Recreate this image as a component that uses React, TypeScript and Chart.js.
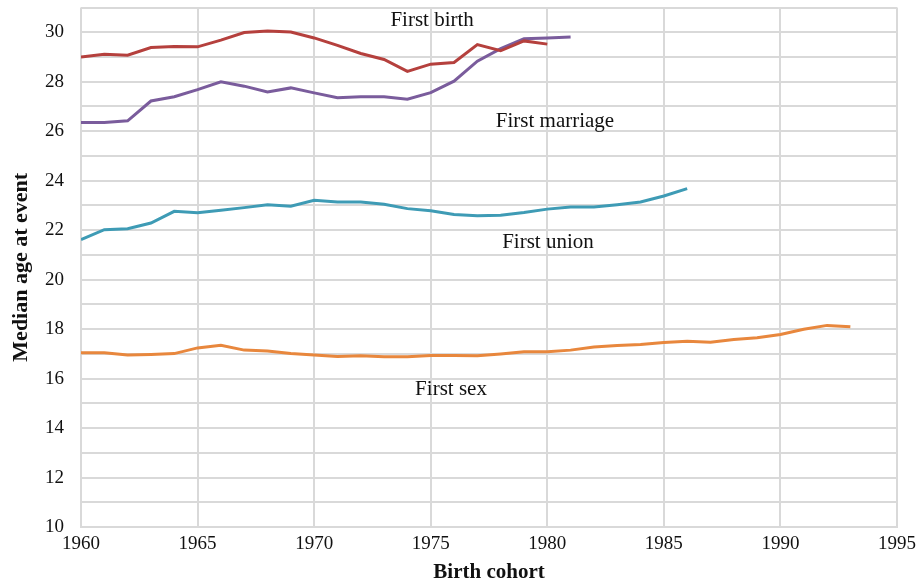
import React, { useEffect, useRef } from "react";
import { Chart, registerables } from "chart.js";

Chart.register(...registerables);

const birthYears = [1960, 1961, 1962, 1963, 1964, 1965, 1966, 1967, 1968, 1969, 1970, 1971, 1972, 1973, 1974, 1975, 1976, 1977, 1978, 1979, 1980, 1981, 1982, 1983, 1984, 1985, 1986, 1987, 1988, 1989, 1990, 1991, 1992, 1993];

const firstBirth = [29.0, 29.11, 29.07, 29.38, 29.42, 29.41, 29.68, 29.99, 30.05, 30.01, 29.77, 29.47, 29.14, 28.9, 28.42, 28.71, 28.78, 29.5, 29.25, 29.65, 29.52];

const firstMarriage = [26.35, 26.35, 26.42, 27.22, 27.39, 27.68, 28.0, 27.82, 27.59, 27.75, 27.55, 27.35, 27.39, 27.39, 27.29, 27.56, 28.02, 28.83, 29.34, 29.74, 29.77, 29.81];

const firstUnion = [21.62, 22.02, 22.06, 22.29, 22.76, 22.7, 22.8, 22.91, 23.03, 22.97, 23.21, 23.14, 23.14, 23.05, 22.87, 22.78, 22.63, 22.58, 22.6, 22.71, 22.85, 22.94, 22.94, 23.03, 23.14, 23.38, 23.68];

const firstSex = [17.04, 17.04, 16.95, 16.97, 17.01, 17.24, 17.35, 17.15, 17.11, 17.01, 16.95, 16.89, 16.92, 16.88, 16.88, 16.93, 16.93, 16.92, 16.99, 17.08, 17.08, 17.15, 17.28, 17.34, 17.38, 17.46, 17.51, 17.47, 17.58, 17.65, 17.78, 17.99, 18.15, 18.09];

const seriesNames = ["First birth", "First marriage", "First union", "First sex"];
const seriesColors = ["#B5403D", "#7A5C9C", "#3E9BB5", "#E8873D"];
// label anchors in data coordinates (year, age)
const labelYears = [1975.06, 1980.33, 1980.03, 1975.87];
const labelAges = [30.48, 26.4, 21.52, 15.54];

const FONT = "'Liberation Serif', 'DejaVu Serif', serif";

const toPoints = (vals: number[]) => vals.map((v, i) => ({ x: birthYears[i], y: v }));

const labelPlugin = {
  id: "seriesLabels",
  afterDatasetsDraw(chart: any) {
    const { ctx, scales } = chart;
    ctx.save();
    ctx.font = `21px ${FONT}`;
    ctx.fillStyle = "#111";
    ctx.textAlign = "center";
    ctx.textBaseline = "middle";
    seriesNames.forEach((name, i) => {
      const x = scales.x.getPixelForValue(labelYears[i]);
      const y = scales.y.getPixelForValue(labelAges[i]);
      ctx.fillText(name, x, y);
    });
    ctx.restore();
  },
};

export default function App() {
  const ref = useRef<HTMLCanvasElement | null>(null);
  useEffect(() => {
    if (!ref.current) return;
    const seriesData = [firstBirth, firstMarriage, firstUnion, firstSex];
    const chart = new Chart(ref.current, {
      type: "line",
      data: {
        datasets: seriesData.map((vals, i) => ({
          label: seriesNames[i],
          data: toPoints(vals),
          borderColor: seriesColors[i],
          backgroundColor: seriesColors[i],
          borderWidth: 3,
          pointRadius: 0,
          tension: 0,
          fill: false,
        })),
      },
      options: {
        animation: false,
        responsive: false,
        maintainAspectRatio: false,
        layout: { padding: { top: 7.5, right: 22, left: 0, bottom: 0 } },
        plugins: {
          legend: { display: false },
          tooltip: { enabled: false },
        },
        scales: {
          x: {
            type: "linear",
            min: 1960,
            max: 1995,
            ticks: {
              stepSize: 5,
              color: "#111",
              font: { family: FONT, size: 19 },
              padding: 6,
              maxRotation: 0,
              autoSkip: false,
              callback: (v: any) => String(v),
            },
            grid: { color: "#D9D9D9", lineWidth: 2, drawTicks: false },
            border: { color: "#D9D9D9", width: 2 },
            title: {
              display: true,
              text: "Birth cohort",
              color: "#111",
              font: { family: FONT, size: 21, weight: "bold" },
              padding: { top: 0, bottom: 0 },
            },
            afterFit: (scale: any) => {
              scale.height = 58;
            },
          },
          y: {
            type: "linear",
            min: 10,
            max: 31,
            ticks: {
              stepSize: 1,
              autoSkip: false,
              color: "#111",
              font: { family: FONT, size: 19 },
              padding: 17,
              callback: (v: any) => (Number(v) % 2 === 0 ? String(v) : ""),
            },
            grid: { color: "#D9D9D9", lineWidth: 2, drawTicks: false },
            border: { display: false },
            title: {
              display: true,
              text: "Median age at event",
              color: "#111",
              font: { family: FONT, size: 22, weight: "bold" },
              padding: { top: 8, bottom: 0 },
            },
            afterFit: (scale: any) => {
              scale.width = 81;
              scale.paddingTop = 0;
              scale.paddingBottom = 0;
            },
          },
        },
      },
      plugins: [labelPlugin],
    });
    return () => chart.destroy();
  }, []);
  return (
    <div style={{ position: "fixed", left: 0, top: 0, width: 922, height: 585, background: "#fff" }}>
      <canvas ref={ref} width={922} height={585} style={{ width: 922, height: 585 }} />
    </div>
  );
}
